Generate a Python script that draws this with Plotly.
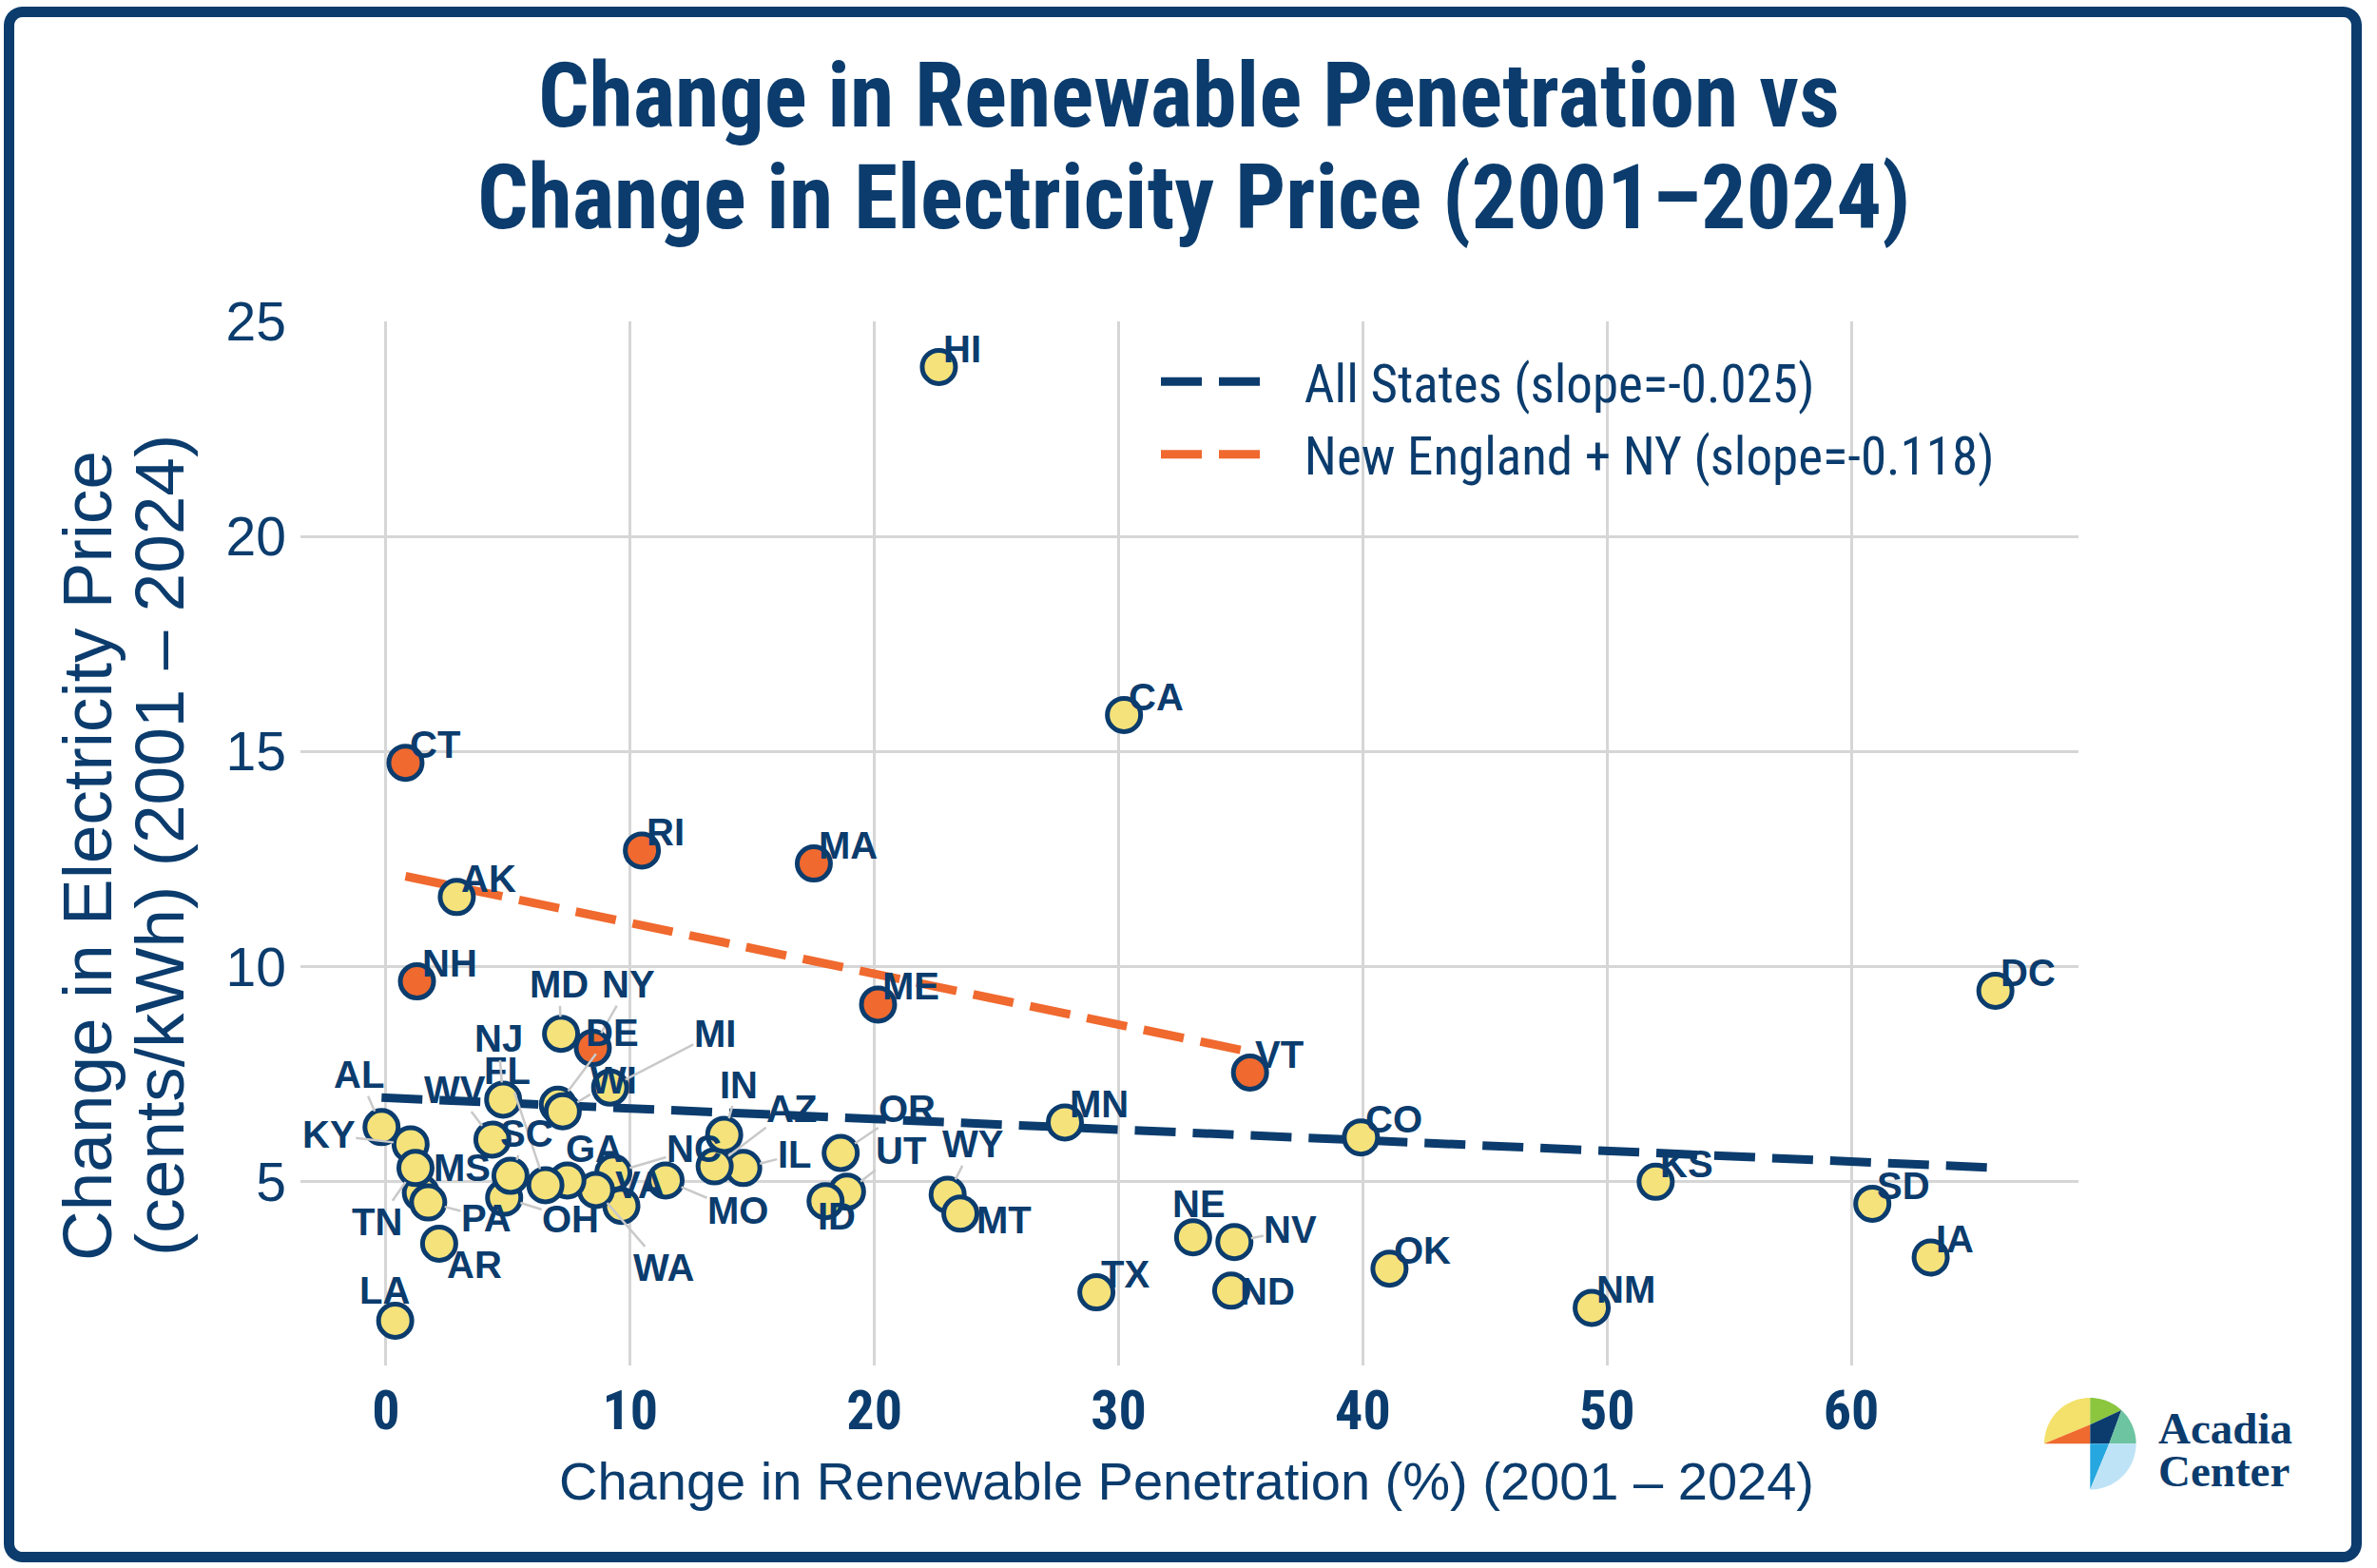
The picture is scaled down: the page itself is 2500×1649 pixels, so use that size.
import numpy as np
import plotly.graph_objects as go

# ---------------- data ----------------
states = ["HI", "CA", "CT", "RI", "MA", "AK", "NH", "ME", "DC", "VT",
          "MN", "CO", "KS", "SD", "IA", "NM", "OK", "TX", "NE", "NV",
          "ND", "WY", "MT", "OR", "UT", "ID", "IL", "AZ", "IN", "MO",
          "VA", "NC", "WA", "GA", "FL", "OH", "SC", "NJ", "WV", "AL",
          "KY", "MS", "TN", "PA", "AR", "LA", "MD", "NY", "DE", "WI", "MI"]
renew_change = [22.64, 30.22, 0.80, 10.48, 17.52, 2.90, 1.27, 20.15, 65.90, 35.38,
                27.80, 39.92, 51.99, 60.86, 63.25, 49.37, 41.09, 29.09, 33.05, 34.74,
                34.61, 23.00, 23.52, 18.62, 18.88, 18.00, 14.63, 13.46, 13.85, 11.45,
                9.64, 9.31, 8.60, 7.43, 6.53, 4.84, 5.10, 4.80, 4.36, -0.18,
                1.01, 1.43, 1.21, 1.73, 2.18, 0.38, 7.17, 8.47, 7.04, 7.24, 9.18]
price_change = [23.94, 15.85, 14.74, 12.70, 12.40, 11.62, 9.66, 9.12, 9.44, 7.54,
                6.38, 6.03, 5.00, 4.49, 3.24, 2.07, 2.98, 2.43, 3.71, 3.60,
                2.47, 4.70, 4.26, 5.67, 4.77, 4.55, 5.32, 5.36, 6.09, 5.03,
                4.44, 5.21, 4.81, 5.03, 4.92, 4.63, 5.14, 6.91, 5.98, 6.27,
                5.87, 4.74, 5.32, 4.52, 3.56, 1.77, 8.44, 8.11, 6.79, 6.64, 7.19]
new_england_ny = ["CT", "RI", "MA", "NH", "ME", "VT", "NY"]
x_ticks = [0, 10, 20, 30, 40, 50, 60]
y_ticks = [5, 10, 15, 20, 25]

# ---------------- style ----------------
NAVY = "#0b3c6d"
ORANGE = "#f0692e"
YELLOW = "#f5e27a"
GRID = "#d6d6d6"
LEADER = "#c9c9c9"
COND = "Roboto Condensed, Open Sans Condensed, DejaVu Sans Condensed, sans-serif"
SANS = "Liberation Sans, Arial, sans-serif"
SERIF = "Liberation Serif, Times New Roman, DejaVu Serif, serif"

W, H = 2500, 1649
ML, MR, MT, MB = 316, 314, 338, 213
PW, PH = W - ML - MR, H - MT - MB


def px(X):
    return (X - ML) / PW


def py(Y):
    return (H - MB - Y) / PH


# label placement (pixel offsets of label centre from the point, leader line?)
label_offsets = {
    "AL": (-24, -55, True), "KY": (-86, -10, True), "MS": (43, -27, False),
    "TN": (-40, 57, True), "PA": (61, 16, True), "AR": (37, 22, False),
    "LA": (-11, -32, False), "WV": (-39, -52, True), "FL": (-40, -120, True),
    "NJ": (-5, -64, True), "SC": (17, -44, True), "OH": (70, 22, True),
    "GA": (28, -33, False), "VA": (20, -22, False), "WA": (71, 82, True),
    "NC": (85, -25, True), "MO": (76, 32, True), "IN": (15, -53, True),
    "AZ": (81, -61, True), "IL": (54, -14, True), "OR": (70, -47, True),
    "UT": (57, -43, True), "ID": (12, 16, False), "WY": (27, -53, True),
    "MT": (46, 7, False), "MD": (-2, -52, True), "NY": (38, -67, True),
    "DE": (57, -76, True), "WI": (54, -33, True), "MI": (110, -57, True),
    "NE": (6, -35, False), "NV": (59, -13, True), "ND": (38, 1, False),
}

x_all = np.array(renew_change)
y_all = np.array(price_change)
is_ne = np.array([s in new_england_ny for s in states])

slope_all, icpt_all = np.polyfit(x_all, y_all, 1)
slope_ne, icpt_ne = np.polyfit(x_all[is_ne], y_all[is_ne], 1)

fig = go.Figure()
GAP = "\u00a0\u00a0\u00a0"

# regression lines
xa = np.array([x_all.min(), x_all.max()])
fig.add_trace(go.Scatter(
    x=xa, y=icpt_all + slope_all * xa, mode="lines", legendgroup="all",
    line=dict(color=NAVY, width=9, dash="43px,18px"),
    name=f"{GAP}All States (slope={slope_all:.3f})", hoverinfo="skip"))
xn = np.array([x_all[is_ne].min(), x_all[is_ne].max()])
fig.add_trace(go.Scatter(
    x=xn, y=icpt_ne + slope_ne * xn, mode="lines", legendgroup="ne",
    line=dict(color=ORANGE, width=9, dash="43px,18px"),
    name=f"{GAP}New England + NY (slope={slope_ne:.3f})", hoverinfo="skip"))

# points
fig.add_trace(go.Scatter(
    x=x_all[~is_ne], y=y_all[~is_ne], mode="markers", showlegend=False,
    marker=dict(size=35, color=YELLOW, line=dict(color=NAVY, width=5)),
    text=[s for s, f in zip(states, is_ne) if not f], hoverinfo="text"))
fig.add_trace(go.Scatter(
    x=x_all[is_ne], y=y_all[is_ne], mode="markers", showlegend=False,
    marker=dict(size=35, color=ORANGE, line=dict(color=NAVY, width=5)),
    text=[s for s, f in zip(states, is_ne) if f], hoverinfo="text"))

annotations = []
lab_font = dict(family=SANS, size=40, color=NAVY, weight="bold")
for s, xv, yv in zip(states, renew_change, price_change):
    if s in label_offsets:
        dx, dy, leader = label_offsets[s]
        if leader:
            annotations.append(dict(
                x=xv, y=yv, xref="x", yref="y", text=s, font=lab_font,
                showarrow=True, ax=dx, ay=dy, arrowhead=0, arrowwidth=2.5,
                arrowcolor=LEADER, standoff=18, borderpad=0))
        else:
            annotations.append(dict(
                x=xv, y=yv, xref="x", yref="y", text=s, font=lab_font,
                showarrow=False, xanchor="center", yanchor="middle",
                xshift=dx, yshift=-dy, borderpad=0))
    else:
        annotations.append(dict(
            x=xv, y=yv, xref="x", yref="y", text=s, font=lab_font,
            showarrow=False, xanchor="left", yanchor="bottom",
            xshift=4, yshift=-4, borderpad=0))

# titles
title_font = dict(family=COND, size=94, color=NAVY, weight="bold")
annotations.append(dict(x=px(1250), y=py(101), xref="paper", yref="paper",
                        text="Change in Renewable Penetration vs", showarrow=False,
                        xanchor="center", yanchor="middle", font=title_font))
annotations.append(dict(x=px(1255), y=py(208), xref="paper", yref="paper",
                        text="Change in Electricity Price (2001\u20132024)", showarrow=False,
                        xanchor="center", yanchor="middle", font=title_font))
ytitle_font = dict(family=SANS, size=73, color=NAVY)
annotations.append(dict(x=px(91), y=py(900), xref="paper", yref="paper",
                        text="Change in Electricity Price", showarrow=False, textangle=-90,
                        xanchor="center", yanchor="middle", font=ytitle_font))
annotations.append(dict(x=px(168), y=py(889), xref="paper", yref="paper",
                        text="(cents/kWh) (2001 \u2013 2024)", showarrow=False, textangle=-90,
                        xanchor="center", yanchor="middle", font=ytitle_font))
annotations.append(dict(x=px(1248), y=py(1557), xref="paper", yref="paper",
                        text="Change in Renewable Penetration (%) (2001 \u2013 2024)",
                        showarrow=False, xanchor="center", yanchor="middle",
                        font=dict(family=SANS, size=56, color=NAVY)))
# logo text
logo_font = dict(family=SERIF, size=47, color=NAVY, weight="bold")
annotations.append(dict(x=px(2268), y=py(1502), xref="paper", yref="paper", text="Acadia",
                        showarrow=False, xanchor="left", yanchor="middle", font=logo_font))
annotations.append(dict(x=px(2268), y=py(1547), xref="paper", yref="paper", text="Center",
                        showarrow=False, xanchor="left", yanchor="middle", font=logo_font))

# ---------------- shapes: frame + logo ----------------
shapes = []


def path_from(points, close=True):
    d = "M " + " L ".join(f"{px(X):.5f},{py(Y):.5f}" for X, Y in points)
    return d + (" Z" if close else "")


def arc(cx, cy, r, a0, a1, n=24):
    return [(cx + r * np.cos(np.radians(a)), cy - r * np.sin(np.radians(a)))
            for a in np.linspace(a0, a1, n)]


# rounded frame
x0f, x1f, y0f, y1f, rr = 9.5, 2478.5, 12.5, 1637.5, 14
frame = [(x0f + rr, y0f), (x1f - rr, y0f)] + arc(x1f - rr, y0f + rr, rr, 90, 0, 8) + \
        [(x1f, y1f - rr)] + arc(x1f - rr, y1f - rr, rr, 0, -90, 8) + \
        [(x0f + rr, y1f)] + arc(x0f + rr, y1f - rr, rr, 270, 180, 8) + \
        [(x0f, y0f + rr)] + arc(x0f + rr, y0f + rr, rr, 180, 90, 8)
shapes.append(dict(type="path", xref="paper", yref="paper", path=path_from(frame),
                   line=dict(color=NAVY, width=11), fillcolor="rgba(0,0,0,0)", layer="above"))

cx, cy, R = 2198.3, 1518.3, 48.3
top_mid = (cx, cy - 20)
pnt45 = (cx + R * np.cos(np.radians(47)), cy - R * np.sin(np.radians(47)))
q = (cx + 20, cy)
left = (cx - R, cy)
bottom = (cx, cy + R)
logo_parts = [
    (arc(cx, cy, R, 180, 90) + [top_mid], "#f3e16b"),
    ([left, (cx, cy), top_mid], "#ef6a2e"),
    (arc(cx, cy, R, 90, 47) + [top_mid], "#8cc63f"),
    ([top_mid, pnt45, q, (cx, cy)], "#0b3c6d"),
    (arc(cx, cy, R, 47, 0) + [q], "#6cc4a1"),
    ([(cx, cy), q, bottom], "#27a7df"),
    ([q] + arc(cx, cy, R, 0, -90), "#bfe3f6"),
]
for pts, col in logo_parts:
    shapes.append(dict(type="path", xref="paper", yref="paper", path=path_from(pts),
                       line=dict(width=0), fillcolor=col, layer="above"))

fig.update_layout(
    width=W, height=H,
    margin=dict(l=ML, r=MR, t=MT, b=MB, pad=0),
    paper_bgcolor="white", plot_bgcolor="white",
    showlegend=True,
    legend=dict(x=px(1216), y=py(359), xanchor="left", yanchor="top",
                font=dict(family=COND, size=55, color=NAVY),
                bgcolor="rgba(0,0,0,0)", itemwidth=108, tracegroupgap=2),
    xaxis=dict(range=[-3.5, 69.3], tickvals=x_ticks, showgrid=True, gridcolor=GRID,
               gridwidth=2.5, zeroline=False, showline=False, ticks="",
               tickfont=dict(family=COND, size=58, color=NAVY, weight="bold"),
               ticklabelstandoff=8),
    yaxis=dict(range=[0.73, 25.0], tickvals=y_ticks, showgrid=True, gridcolor=GRID,
               gridwidth=2.5, zeroline=False, showline=False, ticks="",
               tickfont=dict(family=SANS, size=57, color=NAVY),
               ticklabelstandoff=14),
    annotations=annotations,
    shapes=shapes,
)

fig.write_html("out.html", config={"displayModeBar": False},
               post_script="document.body.style.margin='0';document.body.style.overflow='hidden';")
